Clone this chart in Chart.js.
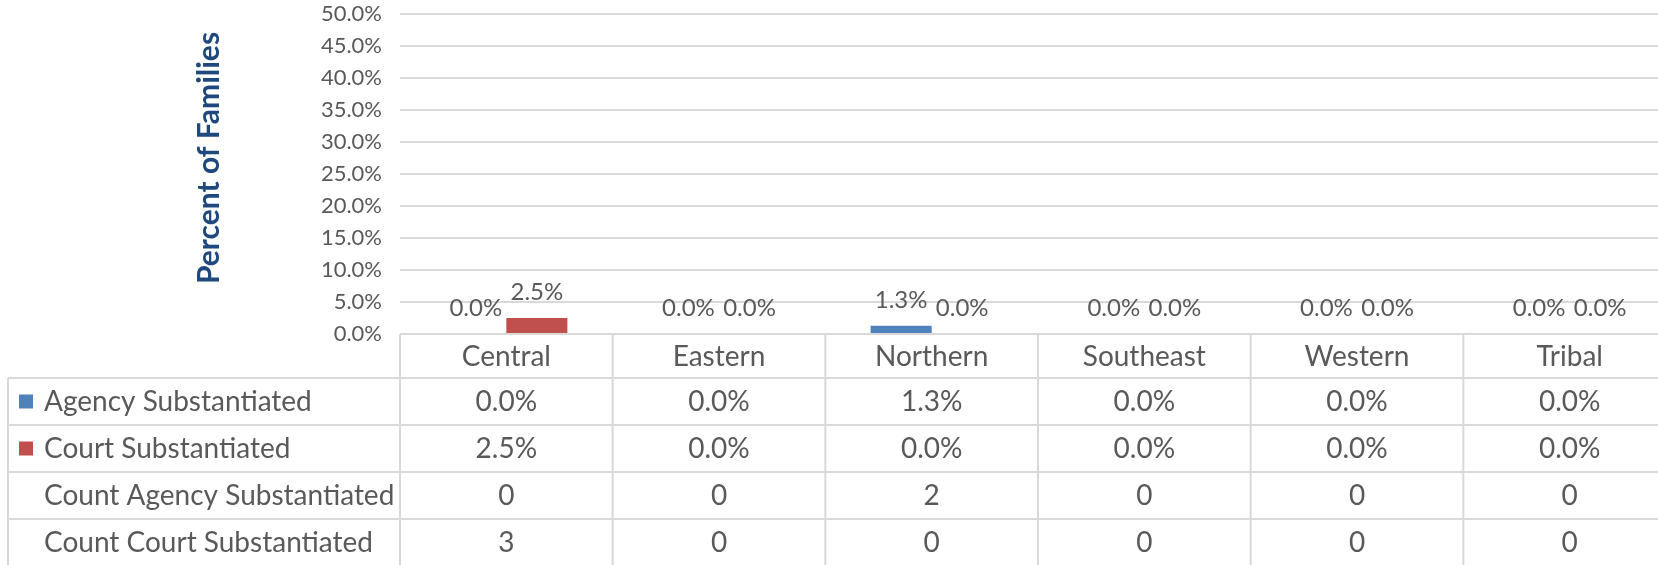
<!DOCTYPE html>
<html>
<head>
<meta charset="utf-8">
<script src="https://cdn.jsdelivr.net/npm/chart.js@4.4.0/dist/chart.umd.min.js"></script>
<style>
  html, body { margin: 0; padding: 0; background: #fff; overflow: hidden; }
  #wrap { width: 1676px; height: 565px; }
</style>
</head>
<body>
<div id="wrap"><canvas id="chart" width="1676" height="565"></canvas></div>
<script>
// Data
const regions = ['Central', 'Eastern', 'Northern', 'Southeast', 'Western', 'Tribal'];
const agencyPct = [0.0, 0.0, 1.3, 0.0, 0.0, 0.0];
const courtPct = [2.5, 0.0, 0.0, 0.0, 0.0, 0.0];
const agencyCount = [0, 0, 2, 0, 0, 0];
const courtCount = [3, 0, 0, 0, 0, 0];
const yMax = 50;
const yStep = 5;

const GRID = '#D9D9D9';
const TEXT = '#595959';
const BLUE = '#4F81BD';
const RED = '#C0504D';
const FONT = 'Lato, "Open Sans", sans-serif';

const pct = v => v.toFixed(1) + '%';

const tableRows = [
    { label: 'Agency Substantiated', values: agencyPct, fmt: pct, key: BLUE },
    { label: 'Court Substantiated', values: courtPct, fmt: pct, key: RED },
    { label: 'Count Agency Substantiated', values: agencyCount, fmt: v => String(v) },
    { label: 'Count Court Substantiated', values: courtCount, fmt: v => String(v) }
];

// value labels above the bars
const barLabels = {
    id: 'barLabels',
    afterDatasetsDraw(chart) {
        const ctx = chart.ctx;
        ctx.save();
        ctx.font = `24px ${FONT}`;
        ctx.fillStyle = TEXT;
        ctx.textAlign = 'center';
        ctx.textBaseline = 'alphabetic';
        chart.data.datasets.forEach((ds, di) => {
            chart.getDatasetMeta(di).data.forEach((bar, i) => {
                ctx.fillText(pct(ds.data[i]), bar.x, bar.y - 18);
            });
        });
        ctx.restore();
    }
};

// y axis title
const axisTitle = {
    id: 'axisTitle',
    afterDraw(chart) {
        const ctx = chart.ctx;
        ctx.save();
        ctx.translate(209, chart.chartArea.top + 144);
        ctx.rotate(-Math.PI / 2);
        ctx.font = `bold 30px ${FONT}`;
        ctx.fillStyle = '#1F497D';
        ctx.textAlign = 'center';
        ctx.textBaseline = 'middle';
        ctx.fillText('Percent of Families', 0, 0);
        ctx.restore();
    }
};

// data table under the plot
const dataTable = {
    id: 'dataTable',
    afterDraw(chart) {
        const { ctx, chartArea } = chart;
        const x = chart.scales.x;
        const half = (x.getPixelForValue(1) - x.getPixelForValue(0)) / 2;
        const top = chartArea.bottom;
        const headerH = 44, rowH = 47, tableLeft = 8;
        const bottom = top + headerH + rowH * tableRows.length;

        ctx.save();
        ctx.strokeStyle = GRID;
        ctx.lineWidth = 2;
        ctx.beginPath();
        for (let r = 0; r <= tableRows.length; r++) {
            const y = top + headerH + rowH * r;
            ctx.moveTo(tableLeft, y);
            ctx.lineTo(chart.width, y);
        }
        ctx.moveTo(tableLeft, top + headerH);
        ctx.lineTo(tableLeft, bottom);
        for (let i = 0; i <= regions.length; i++) {
            const vx = x.getPixelForValue(0) - half + i * half * 2;
            ctx.moveTo(vx, top);
            ctx.lineTo(vx, bottom);
        }
        ctx.stroke();

        ctx.fillStyle = TEXT;
        ctx.font = `28px ${FONT}`;
        ctx.textBaseline = 'middle';
        ctx.textAlign = 'center';
        regions.forEach((r, i) => ctx.fillText(r, x.getPixelForValue(i), top + headerH / 2 + 1));

        tableRows.forEach((row, ri) => {
            const yc = top + headerH + rowH * ri + rowH / 2;
            if (row.key) {
                ctx.fillStyle = row.key;
                ctx.fillRect(19, yc - 7, 14, 14);
            }
            ctx.fillStyle = TEXT;
            ctx.textAlign = 'left';
            ctx.fillText(row.label, 44, yc);
            ctx.textAlign = 'center';
            row.values.forEach((v, i) => ctx.fillText(row.fmt(v), x.getPixelForValue(i), yc));
        });
        ctx.restore();
    }
};

new Chart(document.getElementById('chart'), {
    type: 'bar',
    data: {
        labels: regions,
        datasets: [
            { label: 'Agency Substantiated', data: agencyPct, backgroundColor: BLUE },
            { label: 'Court Substantiated', data: courtPct, backgroundColor: RED }
        ]
    },
    options: {
        responsive: false,
        animation: false,
        layout: { padding: { left: 0, right: 0, top: 14, bottom: 231 } },
        datasets: { bar: { categoryPercentage: 0.574, barPercentage: 1 } },
        plugins: { legend: { display: false }, tooltip: { enabled: false } },
        scales: {
            x: { display: false },
            y: {
                min: 0,
                max: yMax,
                afterFit: s => {
                    s.width = 400;
                    s.paddingTop = 0;
                    s.paddingBottom = 0;
                },
                border: { display: false },
                grid: { color: GRID, lineWidth: 2, drawTicks: false },
                ticks: {
                    stepSize: yStep,
                    padding: 18,
                    color: TEXT,
                    font: { family: FONT, size: 22 },
                    callback: v => pct(v)
                }
            }
        }
    },
    plugins: [barLabels, axisTitle, dataTable]
});
</script>
</body>
</html>
